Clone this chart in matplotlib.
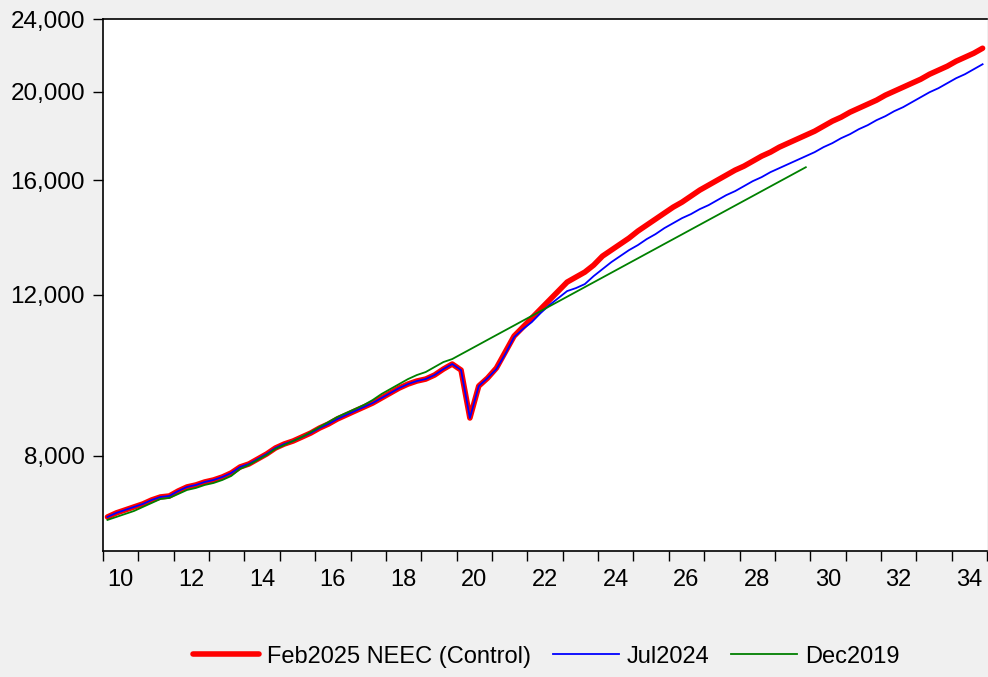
import numpy as np
import matplotlib
matplotlib.use('Agg')
import matplotlib.pyplot as plt
from matplotlib.ticker import FixedLocator, FuncFormatter, NullLocator

plt.rcParams['font.family'] = ['Liberation Sans', 'DejaVu Sans']

# Quarterly series, first quarter is 2010Q1
start_year = 2010

# Feb2025 NEEC (Control), 2010Q1 - 2034Q4
feb2025 = [
    6863, 6933, 6985, 7038, 7091, 7163, 7217, 7235, 7326, 7401,
    7438, 7494, 7532, 7589, 7666, 7782, 7841, 7940, 8040, 8162,
    8245, 8307, 8391, 8476, 8583, 8670, 8779, 8868, 8958, 9048,
    9139, 9255, 9372, 9490, 9586, 9659, 9707, 9806, 9954, 10081,
    9929, 8802, 9538, 9732, 9980, 10389, 10815, 11062, 11316, 11575,
    11839, 12110, 12387, 12544, 12702, 12927, 13223, 13424, 13628, 13835,
    14081, 14295, 14512, 14733, 14956, 15145, 15375, 15609, 15806, 16006,
    16208, 16413, 16579, 16788, 17001, 17173, 17390, 17566, 17743, 17922,
    18103, 18332, 18564, 18751, 18988, 19180, 19374, 19570, 19817, 20017,
    20219, 20423, 20629, 20890, 21101, 21314, 21583, 21801, 22022, 22300,
]

# Jul2024, 2010Q1 - 2034Q4
jul2024 = [
    6863, 6933, 6985, 7038, 7091, 7163, 7217, 7235, 7326, 7401,
    7438, 7494, 7532, 7589, 7666, 7782, 7841, 7940, 8040, 8162,
    8245, 8307, 8391, 8476, 8583, 8670, 8779, 8868, 8958, 9048,
    9139, 9255, 9372, 9490, 9586, 9659, 9707, 9806, 9954, 10081,
    9929, 8802, 9538, 9732, 9954, 10337, 10788, 11007, 11202, 11459,
    11691, 11899, 12110, 12202, 12325, 12575, 12798, 13025, 13223, 13424,
    13594, 13801, 13975, 14187, 14366, 14548, 14695, 14881, 15031, 15222,
    15414, 15570, 15766, 15966, 16127, 16331, 16496, 16663, 16831, 17001,
    17173, 17390, 17566, 17788, 17968, 18195, 18378, 18611, 18799, 19036,
    19228, 19471, 19717, 19966, 20168, 20423, 20681, 20890, 21154, 21421,
]

# Dec2019, 2010Q1 - 2029Q4
dec2019 = [
    6812, 6863, 6915, 6967, 7038, 7109, 7181, 7199, 7271, 7345,
    7382, 7438, 7475, 7532, 7608, 7743, 7821, 7920, 8020, 8142,
    8224, 8307, 8391, 8497, 8605, 8713, 8824, 8913, 9003, 9094,
    9209, 9349, 9467, 9586, 9707, 9806, 9880, 10005, 10131, 10208,
    10332, 10457, 10584, 10713, 10843, 10974, 11107, 11242, 11378, 11516,
    11656, 11797, 11940, 12085, 12232, 12380, 12530, 12682, 12836, 12992,
    13149, 13309, 13470, 13634, 13799, 13966, 14136, 14307, 14481, 14656,
    14834, 15014, 15196, 15380, 15567, 15756, 15947, 16140, 16336, 16534,
]

y_ticks = [8000, 12000, 16000, 20000, 24000]
x_label_years = list(range(2010, 2035, 2))


def quarter_positions(n):
    # plot each quarter at the middle of its slot
    return start_year + (np.arange(n) + 0.5) / 4


fig = plt.figure(figsize=(9.88, 6.77), dpi=100, facecolor='#f0f0f0')
ax = fig.add_axes([0.1043, 0.1861, 0.8947, 0.7858])
ax.set_facecolor('white')

ax.plot(quarter_positions(len(feb2025)), feb2025, color='#ff0000', lw=4.0,
        solid_capstyle='round', solid_joinstyle='round', label='Feb2025 NEEC (Control)')
ax.plot(quarter_positions(len(jul2024)), jul2024, color='#0000ff', lw=1.3,
        label='Jul2024')
ax.plot(quarter_positions(len(dec2019)), dec2019, color='#008000', lw=1.3,
        label='Dec2019')

# log y axis
ax.set_yscale('log')
ax.set_ylim(6300, 24000)
ax.yaxis.set_major_locator(FixedLocator(y_ticks))
ax.yaxis.set_minor_locator(NullLocator())
ax.yaxis.set_major_formatter(FuncFormatter(lambda v, p: f'{v:,.0f}'))

# x axis: tick marks at year boundaries, labels centred on every other year
ax.set_xlim(2010, 2035)
ax.xaxis.set_major_locator(FixedLocator(range(2010, 2036)))
ax.xaxis.set_major_formatter(FuncFormatter(lambda v, p: ''))
ax.xaxis.set_minor_locator(FixedLocator([y + 0.5 for y in x_label_years]))
ax.xaxis.set_minor_formatter(FuncFormatter(lambda v, p: f'{int(v) % 100:02d}'))

ax.tick_params(axis='x', which='major', direction='out', length=7, width=1, color='black')
ax.tick_params(axis='x', which='minor', length=0, pad=13, labelsize=17)
ax.tick_params(axis='y', which='major', direction='out', length=7, width=1,
               pad=6, labelsize=17.5)

for side in ['left', 'top', 'bottom']:
    ax.spines[side].set_linewidth(1.2)
    ax.spines[side].set_color('black')
ax.spines['right'].set_visible(False)

fig.legend(loc='center', bbox_to_anchor=(0.553, 0.03), ncol=3, frameon=False,
           fontsize=17, handlelength=2.8, handletextpad=0.35, columnspacing=0.9)

fig.savefig('out.png', dpi=100, facecolor=fig.get_facecolor())
